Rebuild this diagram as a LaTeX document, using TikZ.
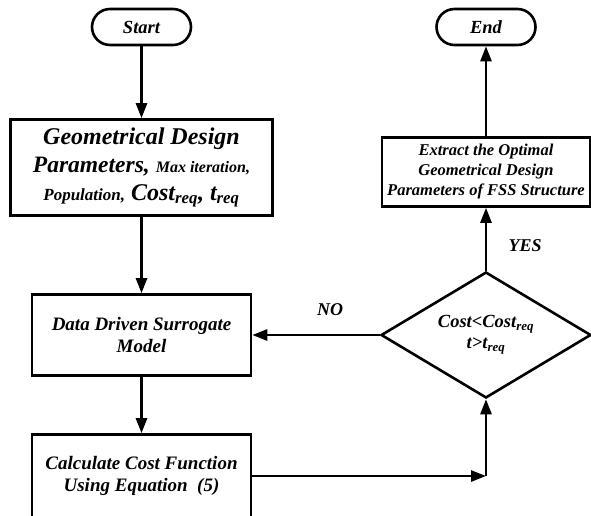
\documentclass[tikz,border=0pt]{standalone}
\usepackage{fontspec}
\setmainfont{Liberation Serif}
\usetikzlibrary{positioning, arrows.meta, shapes.geometric}

\begin{document}
\begin{tikzpicture}
    [
        x=1pt, y=1pt, node distance=140pt and 345pt, on grid, auto,
        term_node/.style={rectangle, rounded corners=18pt, draw=black, line width=2.6pt, minimum width=99pt, minimum height=36pt, inner sep=0pt, font=\fontsize{18.5}{22}\selectfont\bfseries\itshape},
        box_node/.style={rectangle, draw=black, line width=2.6pt, align=center, inner sep=0pt, font=\fontsize{19}{22}\selectfont\bfseries\itshape},
        cond_node/.style={diamond, aspect=1.66, draw=black, line width=2.6pt, minimum width=210pt, minimum height=126pt, inner sep=0pt, align=center, font=\fontsize{18.5}{21}\selectfont\bfseries\itshape},
        flow/.style={line width=2.6pt, -{Triangle[length=15pt, width=11pt]}},
        flow_label/.style={font=\fontsize{18}{21}\selectfont\bfseries\itshape},
    ]
        \useasboundingbox (0,0) rectangle (591,-516);
        \node[term_node] (start) at (141.5,-27) {Start};
        \node[box_node, minimum width=262pt, minimum height=96pt, font=\fontsize{24}{28}\selectfont\bfseries\itshape] (params) [below = 140.5pt of start] {Geometrical Design\\{\fontsize{23.5}{28}\selectfont Parameters,} {\fontsize{16}{28}\selectfont Max iteration,}\\{\fontsize{17}{28}\selectfont Population,} Cost\textsubscript{req}, t\textsubscript{req}};
        \node[box_node, minimum width=219pt, minimum height=81pt] (surrogate) [below = 167.5pt of params] {Data Driven Surrogate\\Model};
        \node[box_node, minimum width=219pt, minimum height=83pt] (calc) [below = 141pt of surrogate] {Calculate Cost Function\\Using Equation~~(5)};
        \node[cond_node] (decision) [right = 344.5pt of surrogate] {Cost<Cost\textsubscript{req}\\t>t\textsubscript{req}};
        \node[box_node, minimum width=208pt, minimum height=69pt, font=\fontsize{16.5}{20}\selectfont\bfseries\itshape] (extract) [above = 163pt of decision] {Extract the Optimal\\Geometrical Design\\Parameters of FSS Structure};
        \node[term_node] (end) [above = 145pt of extract] {End};
        \coordinate (corner) at (decision |- calc);
        \draw[flow] (start) -- (params);
        \draw[flow] (params) -- (surrogate);
        \draw[flow] (surrogate) -- (calc);
        \draw[flow] (calc) -- (corner);
        \draw[flow] (corner) -- (decision);
        \draw[flow] (decision) -- node[flow_label, above=15pt, pos=0.39] {NO} (surrogate);
        \draw[flow] (decision) -- node[flow_label, right=18pt, pos=0.4] {YES} (extract);
        \draw[flow] (extract) -- (end);
\end{tikzpicture}
\end{document}
